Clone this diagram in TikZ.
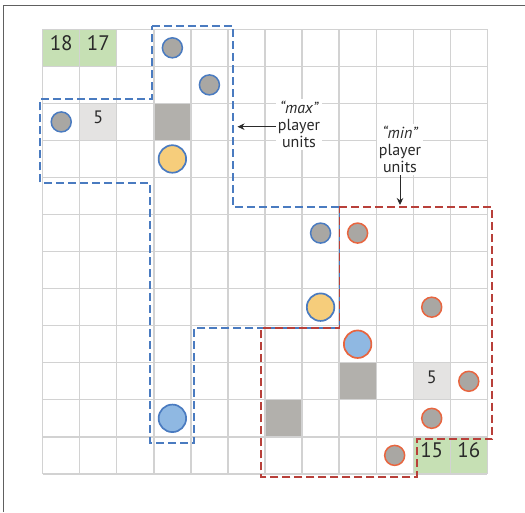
\documentclass[tikz,border=0pt]{standalone}
\usepackage{fontspec}
\setmainfont{PT Sans}
\usetikzlibrary{arrows.meta}
\definecolor{gridc}{HTML}{D2D2D2}
\definecolor{greenc}{HTML}{C6E0B4}
\definecolor{lightc}{HTML}{E4E3E2}
\definecolor{darkc}{HTML}{B2B0AC}
\definecolor{greyc}{HTML}{A9A7A3}
\definecolor{blueo}{HTML}{4A7BC0}
\definecolor{redo}{HTML}{E8653F}
\definecolor{redd}{HTML}{B8403A}
\definecolor{yellowc}{HTML}{F6CD7B}
\definecolor{bluef}{HTML}{8FB8E2}
\definecolor{textc}{HTML}{2A2A2A}
\definecolor{framec}{HTML}{606060}
\tikzset{
  gridline/.style={draw=gridc, line width=1.3pt},
  framel/.style={draw=framec, line width=1pt},
  greencell/.style={fill=greenc},
  lightcell/.style={fill=lightc},
  darkcell/.style={fill=darkc},
  smallunit/.style={circle, inner sep=0pt, minimum size=20pt, line width=1.5pt, fill=greyc},
  bigunit/.style={circle, inner sep=0pt, minimum size=27.5pt, line width=1.7pt},
  maxunit/.style={draw=blueo},
  minunit/.style={draw=redo},
  bignum/.style={text=textc, inner sep=0pt, font=\fontsize{21}{21}\selectfont},
  smallnum/.style={text=textc, inner sep=0pt, font=\fontsize{18}{18}\selectfont},
  maxregion/.style={draw=blueo, line width=1.8pt, dash pattern=on 8pt off 4pt},
  minregion/.style={draw=redd, line width=1.8pt, dash pattern=on 8pt off 4pt},
  lbl/.style={fill=white, align=center, text=textc, inner sep=2pt, font=\fontsize{16}{17}\selectfont},
  arr/.style={draw=textc, line width=1pt, -{Stealth[length=7pt,width=6.5pt]}}
}
\begin{document}
\begin{tikzpicture}[x=1pt,y=-1pt]
\useasboundingbox (0,0) rectangle (525,512);
\draw[framel] (3.6,512) -- (3.6,5.3) -- (525,5.3);
\begin{scope}[shift={(42.7pt,-29.3pt)},x=37.05pt,y=-37.05pt]
  % coloured cells
  \fill[greencell] (0,0) rectangle (2,1);
  \fill[greencell] (10,11) rectangle (12,12);
  \fill[lightcell] (1,2) rectangle (2,3);
  \fill[lightcell] (10,9) rectangle (11,10);
  \fill[darkcell] (3,2) rectangle (4,3);
  \fill[darkcell] (8,9) rectangle (9,10);
  \fill[darkcell] (6,10) rectangle (7,11);
  % grid
  \foreach \i in {0,...,12} {
    \draw[gridline] (\i,0) -- (\i,12);
    \draw[gridline] (0,\i) -- (12,\i);
  }
  % numbers
  \node[bignum] (n18) at (0.5,0.37) {18};
  \node[bignum] (n17) at (1.5,0.37) {17};
  \node[bignum] (n15) at (10.5,11.37) {15};
  \node[bignum] (n16) at (11.5,11.37) {16};
  \node[smallnum] (f1) at (1.5,2.37) {5};
  \node[smallnum] (f2) at (10.5,9.38) {5};
  % regions
  \draw[maxregion] (2.95,-0.09) -- (5.13,-0.09) -- (5.13,4.80) -- (8.01,4.80)
     -- (8.01,8.07) -- (4.09,8.07) -- (4.09,11.16) -- (2.89,11.16) -- (2.89,4.14)
     -- (-0.07,4.14) -- (-0.07,1.89) -- (2.95,1.89) -- cycle;
  \draw[minregion] (8.01,4.80) -- (12.13,4.80) -- (12.13,11.06) -- (10.10,11.06)
     -- (10.10,12.08) -- (5.89,12.08) -- (5.89,8.07) -- (8.01,8.07) -- cycle;
  % max units
  \node[smallunit, maxunit] (a1) at (3.5,0.5) {};
  \node[smallunit, maxunit] (a2) at (4.5,1.5) {};
  \node[smallunit, maxunit] (a3) at (0.5,2.5) {};
  \node[smallunit, maxunit] (a4) at (7.5,5.5) {};
  \node[bigunit, maxunit, fill=yellowc] (a5) at (3.5,3.5) {};
  \node[bigunit, maxunit, fill=yellowc] (a6) at (7.5,7.5) {};
  \node[bigunit, maxunit, fill=bluef] (a7) at (3.5,10.5) {};
  % min units
  \node[smallunit, minunit] (b1) at (8.5,5.5) {};
  \node[smallunit, minunit] (b2) at (10.5,7.5) {};
  \node[smallunit, minunit] (b3) at (11.5,9.5) {};
  \node[smallunit, minunit] (b4) at (10.5,10.5) {};
  \node[smallunit, minunit] (b5) at (9.5,11.5) {};
  \node[bigunit, minunit, fill=bluef] (b6) at (8.5,8.5) {};
\end{scope}
% labels
\node[lbl] (maxlbl) at (299,124.5) {\itshape “max”\\player\\units};
\node[lbl] (minlbl) at (400,149.5) {\itshape “min”\\player\\units};
\coordinate (maxtip) at (237.5,126.7);
\coordinate (mintip) at (400,205);
\draw[arr] (maxlbl.west |- maxtip) -- (maxtip);
\draw[arr] (minlbl.south) -- (mintip);
\end{tikzpicture}
\end{document}
